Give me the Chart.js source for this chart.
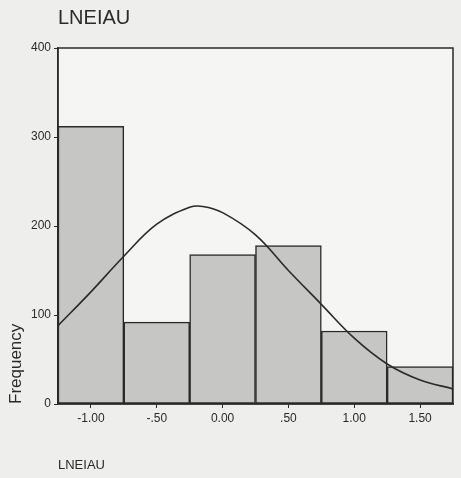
<!DOCTYPE html>
<html>
<head>
<meta charset="utf-8">
<script src="https://cdn.jsdelivr.net/npm/chart.js@4.4.1/dist/chart.umd.min.js"></script>
<style>
  body { margin: 0; background: #eeeeec; }
  #wrap { width: 461px; height: 478px; }
</style>
</head>
<body>
<div id="wrap"><canvas id="myChart"></canvas></div>
<script>
// histogram bins (centres) and frequencies
const binCenters = [-1.0, -0.5, 0.0, 0.5, 1.0, 1.5];
const frequencies = [312, 92, 168, 178, 82, 42];

// fitted normal curve
const curveX = [-1.25, -1.0, -0.75, -0.5, -0.25, -0.15, 0.0, 0.25, 0.5, 0.75, 1.0, 1.25, 1.5, 1.75];
const curveY = [88, 126, 166, 202, 221, 222, 215, 190, 150, 112, 74, 45, 27, 17];

const xTicks = [-1.0, -0.5, 0.0, 0.5, 1.0, 1.5];
const xTickLabels = ['-1.00', '-.50', '0.00', '.50', '1.00', '1.50'];
const yTicks = [0, 100, 200, 300, 400];

const ink = '#2a2a2a';
const font = '"Liberation Sans", Arial, sans-serif';

// plot box + paper tone
const frame = {
    id: 'frame',
    beforeDraw(chart) {
        const c = chart.ctx, a = chart.chartArea;
        c.save();
        c.fillStyle = '#eeeeec';
        c.fillRect(0, 0, chart.width, chart.height);
        c.fillStyle = '#f5f5f3';
        c.fillRect(a.left, a.top, a.right - a.left, a.bottom - a.top);
        c.restore();
    },
    afterDraw(chart) {
        const c = chart.ctx, a = chart.chartArea;
        c.save();
        c.strokeStyle = ink;
        c.lineWidth = 1.5;
        c.strokeRect(a.left, a.top, a.right - a.left, a.bottom - a.top);
        c.restore();
    }
};

let ctx = document.getElementById('myChart').getContext('2d');
let myChart = new Chart(ctx, {
    data: {
        datasets: [{
                type: 'line',
                data: curveX.map((x, i) => ({ x: x, y: curveY[i] })),
                borderColor: ink,
                borderWidth: 1.6,
                pointRadius: 0,
                tension: 0.4,
                fill: false,
                order: 0
            },
            {
                type: 'bar',
                data: binCenters.map((x, i) => ({ x: x, y: frequencies[i] })),
                backgroundColor: '#c6c6c4',
                borderColor: ink,
                borderWidth: 1.5,
                borderSkipped: false,
                barPercentage: 1,
                categoryPercentage: 1,
                order: 1
            }
        ]
    },
    options: {
        responsive: true,
        maintainAspectRatio: false,
        animation: false,
        layout: {
            padding: { left: 4, right: 8, top: 0, bottom: 2 }
        },
        plugins: {
            legend: { display: false },
            tooltip: { enabled: false },
            title: {
                display: true,
                fullSize: false,
                text: 'LNEIAU',
                align: 'start',
                color: ink,
                font: { family: font, size: 20, weight: 'normal' },
                padding: { top: 6, bottom: 18 }
            }
        },
        scales: {
            x: {
                type: 'linear',
                min: -1.25,
                max: 1.75,
                offset: false,
                afterBuildTicks: s => { s.ticks = xTicks.map(v => ({ value: v })); },
                afterFit: s => { s.height = 72; },
                ticks: {
                    autoSkip: false,
                    maxRotation: 0,
                    color: ink,
                    font: { family: font, size: 12 },
                    padding: 3,
                    callback: (v) => xTickLabels[xTicks.indexOf(v)]
                },
                grid: { offset: false, drawOnChartArea: false, drawTicks: true, tickLength: 4, color: ink },
                border: { display: true, color: ink, width: 1.5 },
                title: {
                    display: true,
                    text: 'LNEIAU',
                    align: 'start',
                    color: ink,
                    font: { family: font, size: 13 },
                    padding: { top: 30, bottom: 3 }
                }
            },
            y: {
                min: 0,
                max: 400,
                afterBuildTicks: s => { s.ticks = yTicks.map(v => ({ value: v })); },
                afterFit: s => { s.width = 54; },
                ticks: {
                    color: ink,
                    font: { family: font, size: 12 },
                    padding: 3
                },
                grid: { drawOnChartArea: false, drawTicks: true, tickLength: 4, color: ink },
                border: { display: true, color: ink, width: 1.5 },
                title: {
                    display: true,
                    text: 'Frequency',
                    align: 'start',
                    color: ink,
                    font: { family: font, size: 17 },
                    padding: { top: 2, bottom: 6 }
                }
            }
        }
    },
    plugins: [frame]
});
</script>
</body>
</html>
